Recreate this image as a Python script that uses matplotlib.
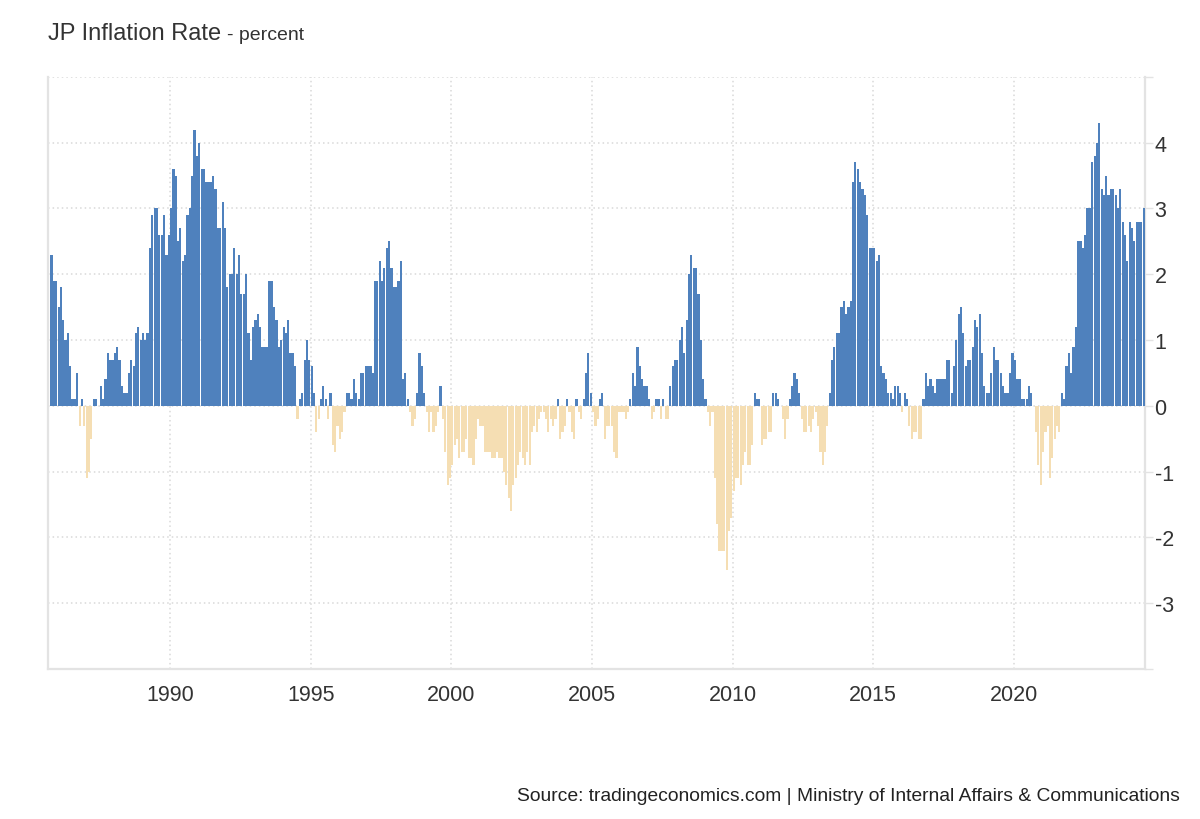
import numpy as np
import pandas as pd
import matplotlib
matplotlib.use("Agg")
import matplotlib.pyplot as plt
import matplotlib.dates as mdates

# Monthly year-on-year CPI change (%), Oct 1985 .. Aug 2024
rates_1980s = [
    2.3, 1.9, 1.9,                                                   # 1985 Oct-Dec
    1.5, 1.8, 1.3, 1.0, 1.1, 0.6, 0.1, 0.1, 0.5, -0.3, 0.1, -0.3,    # 1986
    -1.1, -1.0, -0.5, 0.1, 0.1, 0.0, 0.3, 0.1, 0.4, 0.8, 0.7, 0.7,   # 1987
    0.8, 0.9, 0.7, 0.3, 0.2, 0.2, 0.5, 0.7, 0.6, 1.1, 1.2, 1.0,      # 1988
    1.1, 1.0, 1.1, 2.4, 2.9, 3.0, 3.0, 2.6, 2.6, 2.9, 2.3, 2.6,      # 1989
]
rates_1990s = [
    3.0, 3.6, 3.5, 2.5, 2.7, 2.2, 2.3, 2.9, 3.0, 3.5, 4.2, 3.8,      # 1990
    4.0, 3.6, 3.6, 3.4, 3.4, 3.4, 3.5, 3.3, 2.7, 2.7, 3.1, 2.7,      # 1991
    1.8, 2.0, 2.0, 2.4, 2.0, 2.3, 1.7, 1.7, 2.0, 1.1, 0.7, 1.2,      # 1992
    1.3, 1.4, 1.2, 0.9, 0.9, 0.9, 1.9, 1.9, 1.5, 1.3, 0.9, 1.0,      # 1993
    1.2, 1.1, 1.3, 0.8, 0.8, 0.6, -0.2, 0.1, 0.2, 0.7, 1.0, 0.7,     # 1994
    0.6, 0.2, -0.4, -0.2, 0.1, 0.3, 0.1, -0.2, 0.2, -0.6, -0.7, -0.3,  # 1995
    -0.5, -0.4, -0.1, 0.2, 0.2, 0.1, 0.4, 0.2, 0.1, 0.5, 0.5, 0.6,   # 1996
    0.6, 0.6, 0.5, 1.9, 1.9, 2.2, 1.9, 2.1, 2.4, 2.5, 2.1, 1.8,      # 1997
    1.8, 1.9, 2.2, 0.4, 0.5, 0.1, -0.1, -0.3, -0.2, 0.2, 0.8, 0.6,   # 1998
    0.2, -0.1, -0.4, -0.1, -0.4, -0.3, -0.1, 0.3, -0.2, -0.7, -1.2, -1.1,  # 1999
]
rates_2000s = [
    -0.9, -0.6, -0.5, -0.8, -0.7, -0.7, -0.5, -0.8, -0.8, -0.9, -0.5, -0.2,  # 2000
    -0.3, -0.3, -0.7, -0.7, -0.7, -0.8, -0.8, -0.7, -0.8, -0.8, -1.0, -1.2,  # 2001
    -1.4, -1.6, -1.2, -1.1, -0.9, -0.7, -0.8, -0.9, -0.7, -0.9, -0.4, -0.3,  # 2002
    -0.4, -0.2, -0.1, -0.1, -0.2, -0.4, -0.2, -0.3, -0.2, 0.1, -0.5, -0.4,   # 2003
    -0.3, 0.1, -0.1, -0.4, -0.5, 0.1, -0.1, -0.2, 0.1, 0.5, 0.8, 0.2,        # 2004
    -0.1, -0.3, -0.2, 0.1, 0.2, -0.5, -0.3, -0.3, -0.3, -0.7, -0.8, -0.1,    # 2005
    -0.1, -0.1, -0.2, -0.1, 0.1, 0.5, 0.3, 0.9, 0.6, 0.4, 0.3, 0.3,          # 2006
    0.1, -0.2, -0.1, 0.1, 0.1, -0.2, 0.1, -0.2, -0.2, 0.3, 0.6, 0.7,         # 2007
    0.7, 1.0, 1.2, 0.8, 1.3, 2.0, 2.3, 2.1, 2.1, 1.7, 1.0, 0.4,              # 2008
    0.1, -0.1, -0.3, -0.1, -1.1, -1.8, -2.2, -2.2, -2.2, -2.5, -1.9, -1.7,   # 2009
]
rates_2010s = [
    -1.3, -1.1, -1.1, -1.2, -0.9, -0.7, -0.9, -0.9, -0.6, 0.2, 0.1, 0.1,     # 2010
    -0.6, -0.5, -0.5, -0.4, -0.4, 0.2, 0.2, 0.1, 0.0, -0.2, -0.5, -0.2,      # 2011
    0.1, 0.3, 0.5, 0.4, 0.2, -0.2, -0.4, -0.4, -0.3, -0.4, -0.2, -0.1,       # 2012
    -0.3, -0.7, -0.9, -0.7, -0.3, 0.2, 0.7, 0.9, 1.1, 1.1, 1.5, 1.6,         # 2013
    1.4, 1.5, 1.6, 3.4, 3.7, 3.6, 3.4, 3.3, 3.2, 2.9, 2.4, 2.4,              # 2014
    2.4, 2.2, 2.3, 0.6, 0.5, 0.4, 0.2, 0.2, 0.1, 0.3, 0.3, 0.2,              # 2015
    -0.1, 0.2, 0.1, -0.3, -0.5, -0.4, -0.4, -0.5, -0.5, 0.1, 0.5, 0.3,       # 2016
    0.4, 0.3, 0.2, 0.4, 0.4, 0.4, 0.4, 0.7, 0.7, 0.2, 0.6, 1.0,              # 2017
    1.4, 1.5, 1.1, 0.6, 0.7, 0.7, 0.9, 1.3, 1.2, 1.4, 0.8, 0.3,              # 2018
    0.2, 0.2, 0.5, 0.9, 0.7, 0.7, 0.5, 0.3, 0.2, 0.2, 0.5, 0.8,              # 2019
]
rates_2020s = [
    0.7, 0.4, 0.4, 0.1, 0.1, 0.1, 0.3, 0.2, 0.0, -0.4, -0.9, -1.2,           # 2020
    -0.7, -0.4, -0.3, -1.1, -0.8, -0.5, -0.3, -0.4, 0.2, 0.1, 0.6, 0.8,      # 2021
    0.5, 0.9, 1.2, 2.5, 2.5, 2.4, 2.6, 3.0, 3.0, 3.7, 3.8, 4.0,              # 2022
    4.3, 3.3, 3.2, 3.5, 3.2, 3.3, 3.3, 3.2, 3.0, 3.3, 2.8, 2.6,              # 2023
    2.2, 2.8, 2.7, 2.5, 2.8, 2.8, 2.8, 3.0,                                  # 2024 Jan-Aug
]

year_ticks = [1990, 1995, 2000, 2005, 2010, 2015, 2020]
y_ticks = [-4, -3, -2, -1, 0, 1, 2, 3, 4, 5]
y_labels = ["", "-3", "-2", "-1", "0", "1", "2", "3", "4", ""]

rates = np.array(rates_1980s + rates_1990s + rates_2000s + rates_2010s + rates_2020s)
months = pd.date_range("1985-10-01", periods=len(rates), freq="MS")
x = mdates.date2num(months)

BLUE = "#4f81bd"
TAN = "#f5deb3"
GRID = "#d9d9d9"
AXIS = "#e3e3e3"
TEXT = "#333333"

plt.rcParams["font.family"] = ["Liberation Sans", "DejaVu Sans"]

fig = plt.figure(figsize=(12, 8.2), dpi=100)
ax = fig.add_axes([0.04, 0.183, 0.914, 0.722])

colors = [BLUE if v >= 0 else TAN for v in rates]
ax.bar(x, rates, width=28, align="edge", color=colors, linewidth=0, zorder=3)

ax.set_xlim(mdates.date2num(pd.Timestamp("1985-08-30")),
            mdates.date2num(pd.Timestamp("2024-08-28")))
ax.set_ylim(-4, 5)

ax.set_xticks(mdates.date2num([pd.Timestamp(f"{y}-01-01") for y in year_ticks]))
ax.set_xticklabels([str(y) for y in year_ticks])
ax.set_yticks(y_ticks)
ax.set_yticklabels(y_labels)
ax.yaxis.tick_right()

ax.grid(True, linestyle=(0, (1, 2)), color=GRID, linewidth=1.1, zorder=0)
ax.tick_params(axis="x", length=0, pad=11, labelsize=15.5, labelcolor=TEXT)
ax.tick_params(axis="y", length=6, width=1, color=AXIS, pad=1,
               labelsize=15.5, labelcolor=TEXT)

ax.spines["top"].set_visible(False)
for side in ["left", "right", "bottom"]:
    ax.spines[side].set_color(AXIS)
    ax.spines[side].set_linewidth(1.6)

# Title with smaller unit suffix
t1 = fig.text(0.04, 0.951, "JP Inflation Rate", fontsize=17, color=TEXT,
              ha="left", va="baseline")
fig.canvas.draw()
bb = t1.get_window_extent()
fig.text(bb.x1 / fig.bbox.width + 0.005, 0.951, "- percent", fontsize=14,
         color=TEXT, ha="left", va="baseline")

fig.text(0.983, 1 - 797 / 820,
         "Source: tradingeconomics.com | Ministry of Internal Affairs & Communications",
         fontsize=13.9, color="#222222", ha="right", va="center")

fig.savefig("out.png", dpi=100, facecolor="white")
